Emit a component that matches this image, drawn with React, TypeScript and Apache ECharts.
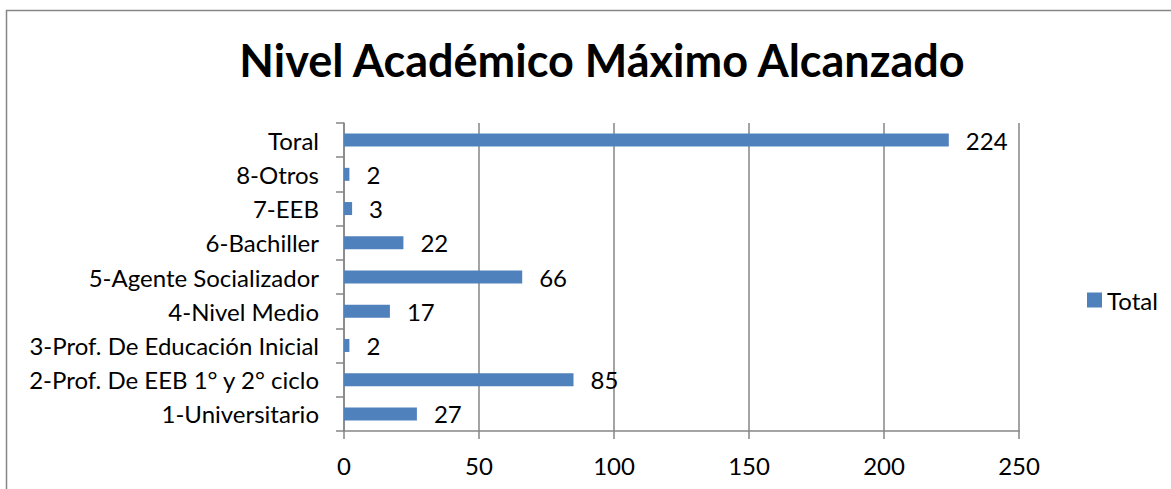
import React, { useEffect, useRef } from "react";
import * as echarts from "echarts";

const categories = [
  "1-Universitario",
  "2-Prof. De EEB 1° y 2° ciclo",
  "3-Prof. De Educación Inicial",
  "4-Nivel Medio",
  "5-Agente Socializador",
  "6-Bachiller",
  "7-EEB",
  "8-Otros",
  "Toral",
];
const totals = [27, 85, 2, 17, 66, 22, 3, 2, 224];
const xTicks = [0, 50, 100, 150, 200, 250];
const titleText = "Nivel Académico Máximo Alcanzado";
const seriesName = "Total";

const FONT = "Lato, 'Open Sans', sans-serif";

export default function App() {
  const ref = useRef<HTMLDivElement>(null);
  useEffect(() => {
    if (!ref.current) return;
    const chart = echarts.init(ref.current, null, { renderer: "svg" });
    chart.setOption({
      animation: false,
      backgroundColor: "#ffffff",
      title: {
        text: titleText,
        left: 597,
        top: 32,
        textAlign: "center",
        textStyle: { fontFamily: FONT, fontWeight: "bold", fontSize: 45, color: "#000" },
      },
      legend: {
        data: [seriesName],
        left: 1082,
        top: 283,
        itemWidth: 15,
        itemHeight: 15,
        itemGap: 6,
        icon: "rect",
        textStyle: { fontFamily: FONT, fontSize: 24, color: "#000" },
      },
      graphic: [
        {
          type: "rect",
          shape: { x: 6.5, y: 10.5, width: 1200, height: 600 },
          style: { fill: "none", stroke: "#868686", lineWidth: 1.5 },
          silent: true,
        },
      ],
      grid: { left: 344, right: 152, top: 123, bottom: 58, containLabel: false },
      xAxis: {
        type: "value",
        min: xTicks[0],
        max: xTicks[xTicks.length - 1],
        interval: 50,
        axisLine: { show: true, lineStyle: { color: "#868686", width: 1.5 } },
        axisTick: { show: true, length: 8, lineStyle: { color: "#868686", width: 1.5 } },
        splitLine: { show: true, lineStyle: { color: "#868686", width: 1.5 } },
        axisLabel: { fontFamily: FONT, fontSize: 24, color: "#000", margin: 22 },
      },
      yAxis: {
        type: "category",
        data: categories,
        axisLine: { show: true, lineStyle: { color: "#868686", width: 1.5 } },
        axisTick: { show: true, length: 8, lineStyle: { color: "#868686", width: 1.5 } },
        axisLabel: { fontFamily: FONT, fontSize: 24, color: "#000", margin: 25 },
      },
      series: [
        {
          name: seriesName,
          type: "bar",
          data: totals,
          barWidth: 13,
          itemStyle: { color: "#4F81BD" },
          label: {
            show: true,
            position: "right",
            distance: 17,
            fontFamily: FONT,
            fontSize: 24,
            color: "#000",
          },
        },
      ],
    });
    return () => chart.dispose();
  }, []);
  return <div ref={ref} style={{ width: 1171, height: 489, position: "absolute", left: 0, top: 0 }} />;
}
